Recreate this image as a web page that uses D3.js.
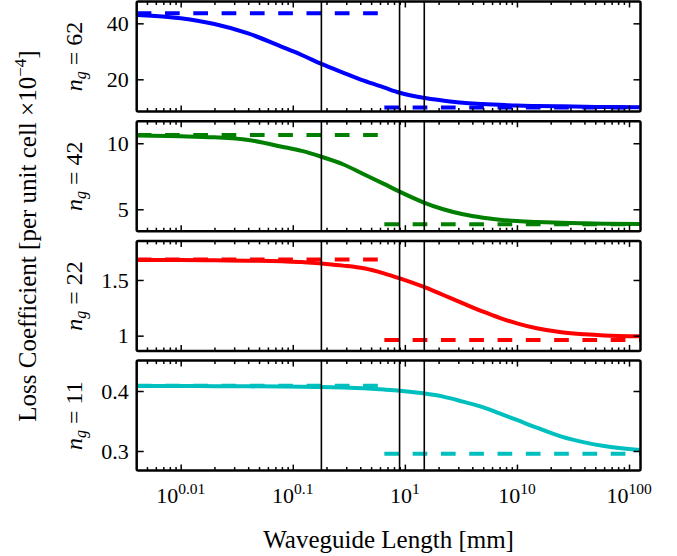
<!DOCTYPE html>
<html>
<head>
<meta charset="utf-8">
<script src="https://cdn.jsdelivr.net/npm/d3@7"></script>
<style>
  body { margin: 0; background: #fff; }
  text { font-family: "Liberation Serif", "DejaVu Serif", serif; fill: #000; }
</style>
</head>
<body>
<div id="chart"></div>
<script>
// exponent of the waveguide length, i.e. L = 10^e mm
var lengthExp = [0.00414, 0.01, 0.02, 0.04, 0.08, 0.12, 0.18, 0.28, 0.43, 0.65, 0.9,
  1.46, 2.2, 3.3, 5, 7, 10, 15, 25, 40, 60, 125];

var groupIndex = [62, 42, 22, 11];
var seriesColor = ['#0000ff', '#007f00', '#ff0000', '#00bfbf'];

var loss62 = [43.0, 41.8, 39.75, 36.4, 31.6, 28.7, 25.5, 22.4, 19.5, 17.1, 15.2,
  13.4, 12.4, 11.6, 11.2, 10.9, 10.6, 10.46, 10.35, 10.2, 10.1, 10.0];
var loss42 = [10.58, 10.53, 10.45, 10.25, 9.74, 9.42, 8.98, 8.41, 7.65, 6.92, 6.33,
  5.53, 5.0, 4.62, 4.36, 4.21, 4.11, 4.04, 3.98, 3.94, 3.91, 3.89];
var loss22 = [1.68, 1.68, 1.677, 1.673, 1.668, 1.662, 1.647, 1.629, 1.605, 1.56, 1.515,
  1.44, 1.365, 1.29, 1.215, 1.16, 1.11, 1.066, 1.03, 1.012, 1.002, 0.995];
var loss11 = [0.4083, 0.4083, 0.4081, 0.4078, 0.4074, 0.4071, 0.4067, 0.4057, 0.4044, 0.4025, 0.4006,
  0.3961, 0.3906, 0.3822, 0.3728, 0.3628, 0.3517, 0.3389, 0.3239, 0.3144, 0.3083, 0.3017];

// short / long length limits (dashed)
var shortLimit = [43.6, 10.63, 1.683, 0.4089];
var longLimit = [9.9, 3.86, 0.961, 0.2956];
var limitBreakExp = 0.656;

// vertical reference lengths (exponent)
var markerExp = [0.18, 0.897, 1.49];

var yDomains = [[8.5, 47.8], [3.34, 11.67], [0.863, 1.851], [0.2673, 0.4507]];
var yTicks = [[20, 40], [5, 10], [1, 1.5], [0.3, 0.4]];
var yTickLabels = [['20', '40'], ['5', '10'], ['1', '1.5'], ['0.3', '0.4']];

var xTickExp = [0.01, 0.1, 1, 10, 100];
var xTickLabels = ['0.01', '0.1', '1', '10', '100'];

var losses = [loss62, loss42, loss22, loss11];

var width = 677, height = 556,
  left = 136.7, right = 640.5,
  top0 = 1.5, panelH = 110, step = 119.7;

var svg = d3.select('#chart').append('svg')
  .attr('width', width).attr('height', height);
var defs = svg.append('defs');

var x = d3.scaleLog().domain([0.00405, 126.6]).range([left, right]);

var minorTicks = [];
[0.001, 0.01, 0.1, 1, 10, 100].forEach(function(d) {
  for (var m = 2; m <= 9; m++) {
    var v = m * d;
    if (v > x.domain()[0] && v < x.domain()[1]) minorTicks.push(v);
  }
});

losses.forEach(function(vals, i) {
  var y0 = top0 + i * step;
  var y = d3.scaleLinear().domain(yDomains[i]).range([y0 + panelH, y0]);
  var g = svg.append('g');

  var line = d3.line()
    .curve(d3.curveMonotoneX)
    .x(function(d) { return x(d[0]); })
    .y(function(d) { return y(d[1]); });

  defs.append('clipPath').attr('id', 'clip' + i)
    .append('rect').attr('x', left).attr('y', y0)
    .attr('width', right - left).attr('height', panelH);
  var plot = g.append('g').attr('clip-path', 'url(#clip' + i + ')');

  plot.append('path')
    .datum(d3.zip(lengthExp, vals))
    .attr('d', line)
    .style('fill', 'none')
    .style('stroke', seriesColor[i])
    .style('stroke-width', 4);

  var dashes = [
    [[x.domain()[0], shortLimit[i]], [limitBreakExp, shortLimit[i]]],
    [[limitBreakExp, longLimit[i]], [x.domain()[1], longLimit[i]]]
  ];
  plot.selectAll('.limit').data(dashes).enter()
    .append('path')
    .attr('class', 'limit')
    .attr('d', d3.line().x(function(d) { return x(d[0]); }).y(function(d) { return y(d[1]); }))
    .style('fill', 'none')
    .style('stroke', seriesColor[i])
    .style('stroke-width', 4)
    .style('stroke-dasharray', '14.7,13.6');

  plot.selectAll('.marker').data(markerExp).enter()
    .append('line')
    .attr('class', 'marker')
    .attr('x1', function(d) { return x(d); })
    .attr('x2', function(d) { return x(d); })
    .attr('y1', y0).attr('y2', y0 + panelH)
    .style('stroke', '#000')
    .style('stroke-width', 1.6);

  // ticks, pointing inward
  var axes = [
    [d3.axisBottom(x).tickValues(xTickExp).tickSize(-6), y0 + panelH],
    [d3.axisBottom(x).tickValues(minorTicks).tickSize(-3.5), y0 + panelH],
    [d3.axisTop(x).tickValues(xTickExp).tickSize(-6), y0],
    [d3.axisTop(x).tickValues(minorTicks).tickSize(-3.5), y0]
  ];
  axes.forEach(function(a) {
    var ax = g.append('g').attr('transform', 'translate(0,' + a[1] + ')')
      .call(a[0].tickFormat(''));
    ax.select('.domain').remove();
    ax.selectAll('line').style('stroke-width', 1.5);
  });

  var yl = g.append('g').attr('transform', 'translate(' + left + ',0)')
    .call(d3.axisLeft(y).tickValues(yTicks[i]).tickSize(-7)
      .tickFormat(function(d, j) { return yTickLabels[i][j]; }));
  yl.select('.domain').remove();
  yl.selectAll('line').style('stroke-width', 1.5);
  yl.selectAll('text')
    .attr('x', -8)
    .style('font-family', '"Liberation Serif", serif')
    .style('font-size', '22px');

  var yr = g.append('g').attr('transform', 'translate(' + right + ',0)')
    .call(d3.axisRight(y).tickValues(yTicks[i]).tickSize(-7).tickFormat(''));
  yr.select('.domain').remove();
  yr.selectAll('line').style('stroke-width', 1.5);

  g.append('rect')
    .attr('x', left).attr('y', y0)
    .attr('width', right - left).attr('height', panelH)
    .attr('rx', 1.5)
    .style('fill', 'none')
    .style('stroke', '#000')
    .style('stroke-width', 2.5);

  var lab = g.append('text')
    .attr('transform', 'translate(82,' + (y0 + panelH / 2) + ') rotate(-90)')
    .attr('text-anchor', 'middle')
    .style('font-size', '24px');
  lab.append('tspan').style('font-style', 'italic').text('n');
  lab.append('tspan').style('font-style', 'italic').style('font-size', '16px')
    .attr('dy', 4).text('g');
  lab.append('tspan').attr('dy', -4).text(' = ' + groupIndex[i]);
});

// x tick labels, 10^e
var bottom = top0 + 3 * step + panelH;
xTickExp.forEach(function(e, j) {
  var t = svg.append('text')
    .attr('x', x(e)).attr('y', bottom + 32)
    .attr('text-anchor', 'middle')
    .style('font-size', '22px');
  t.append('tspan').text('10');
  t.append('tspan').attr('dy', -9).style('font-size', '15.5px').text(xTickLabels[j]);
});

svg.append('text')
  .attr('x', (left + right) / 2).attr('y', 548)
  .attr('text-anchor', 'middle')
  .style('font-size', '25px')
  .text('Waveguide Length [mm]');

var ylab = svg.append('text')
  .attr('transform', 'translate(36,' + ((top0 + bottom) / 2) + ') rotate(-90)')
  .attr('text-anchor', 'middle')
  .style('font-size', '25px');
ylab.append('tspan').text('Loss Coefficient [per unit cell \u00d710');
ylab.append('tspan').attr('dy', -10).style('font-size', '17px').text('\u22124');
ylab.append('tspan').attr('dy', 10).text(']');
</script>
</body>
</html>
